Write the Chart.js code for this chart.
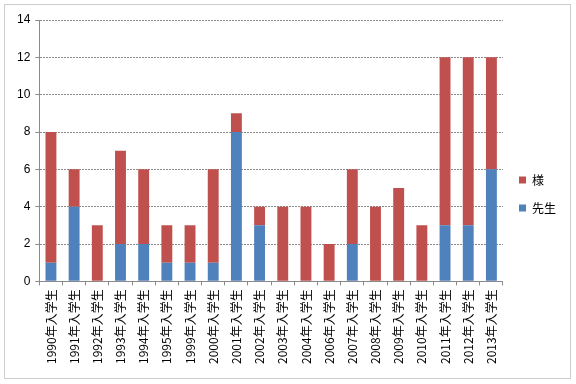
<!DOCTYPE html>
<html>
<head>
<meta charset="utf-8">
<script src="https://cdn.jsdelivr.net/npm/chart.js@4"></script>
<style>
  html, body { margin: 0; padding: 0; background: #fff; }
  #wrap { width: 576px; height: 384px; position: relative; }
</style>
</head>
<body>
<div id="wrap"><canvas id="chart" width="576" height="384"></canvas></div>
<script>
// 入学年度ごとの人数
const categories = ['1990年入学生', '1991年入学生', '1992年入学生', '1993年入学生', '1994年入学生',
  '1995年入学生', '1999年入学生', '2000年入学生', '2001年入学生', '2002年入学生',
  '2003年入学生', '2004年入学生', '2006年入学生', '2007年入学生', '2008年入学生',
  '2009年入学生', '2010年入学生', '2011年入学生', '2012年入学生', '2013年入学生'];
const senseiValues = [1, 4, 0, 2, 2, 1, 1, 1, 8, 3, 0, 0, 0, 2, 0, 0, 0, 3, 3, 6];
const samaValues   = [7, 2, 3, 5, 4, 2, 2, 5, 1, 1, 4, 4, 2, 4, 4, 5, 3, 9, 9, 6];
const yTicks = [0, 2, 4, 6, 8, 10, 12, 14];

// 外枠の点線
const frame = {
  id: 'frame',
  afterDraw(chart) {
    const ctx = chart.ctx;
    ctx.save();
    ctx.strokeStyle = '#9a9a9a';
    ctx.lineWidth = 1;
    ctx.setLineDash([1, 1]);
    ctx.strokeRect(4.5, 4.5, 566, 374);
    ctx.restore();
  }
};

const tickFont = { family: '"Liberation Sans", Arial, sans-serif', size: 12 };
const jpFont = { family: '"Noto Sans CJK JP", sans-serif', size: 12 };

new Chart(document.getElementById('chart').getContext('2d'), {
  type: 'bar',
  data: {
    labels: categories,
    datasets: [
      { label: '先生', data: senseiValues, backgroundColor: '#4f81bd', borderWidth: 0 },
      { label: '様', data: samaValues, backgroundColor: '#c0504d', borderWidth: 0 }
    ]
  },
  options: {
    responsive: false,
    animation: false,
    layout: { padding: { left: 12, top: 20, right: 10, bottom: 16 } },
    datasets: { bar: { barPercentage: 0.47, categoryPercentage: 1 } },
    plugins: {
      legend: {
        position: 'right',
        reverse: true,
        labels: {
          boxWidth: 7, boxHeight: 7, padding: 16,
          color: '#000', font: { family: '"Noto Sans CJK JP", sans-serif', size: 12 }
        }
      },
      tooltip: { enabled: false }
    },
    scales: {
      x: {
        stacked: true,
        grid: { drawOnChartArea: false, tickLength: 4, color: '#8a8a8a' },
        border: { color: '#8a8a8a' },
        ticks: { color: '#000', font: jpFont, minRotation: 90, maxRotation: 90, autoSkip: false, padding: 4 }
      },
      y: {
        stacked: true,
        min: 0, max: 14,
        afterBuildTicks(axis) { axis.ticks = yTicks.map(v => ({ value: v })); },
        grid: { color: '#8a8a8a', tickLength: 4, lineWidth: 1 },
        border: { color: '#8a8a8a', dash: [2, 1] },
        ticks: { color: '#000', font: tickFont, padding: 5 }
      }
    }
  },
  plugins: [frame]
});
</script>
</body>
</html>
